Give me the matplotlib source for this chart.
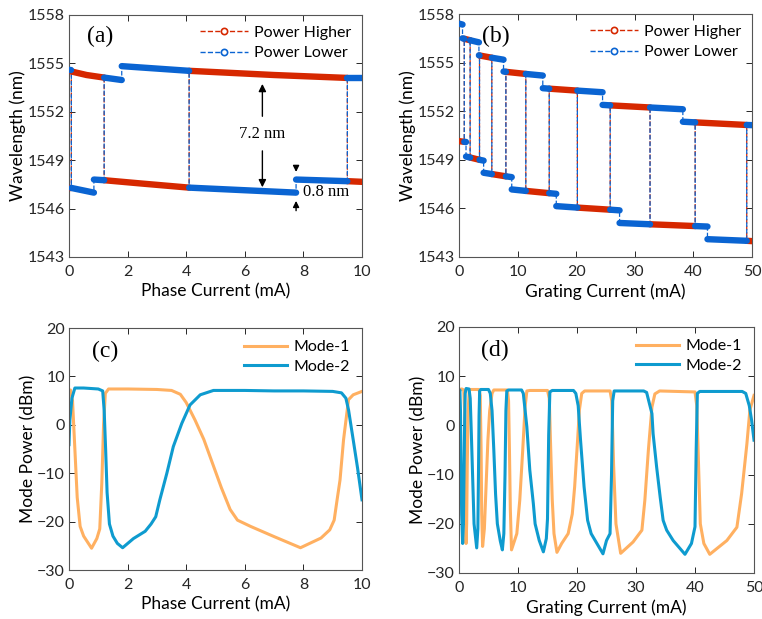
import matplotlib
matplotlib.use("Agg")
import matplotlib.pyplot as plt
from matplotlib.lines import Line2D

plt.rcParams['font.family'] = ['Lato', 'DejaVu Sans']

RED = '#D62800'
BLUE = '#0A64D2'
ORANGE = '#FFB061'
CYAN = '#0E9BCF'

# ---- (a) wavelength vs phase current, one list per continuous segment
a_high_x = [[0.0, 0.08], [0.08, 0.6, 1.2], [1.2, 2.5, 4.1], [4.1, 7.0, 9.5], [9.5, 10.0]]
a_high_y = [[1547.3, 1547.3], [1554.5, 1554.28, 1554.12], [1547.76, 1547.55, 1547.3],
            [1554.54, 1554.28, 1554.1], [1547.7, 1547.66]]
a_low_x = [[0.0, 0.08], [0.08, 0.85], [0.85, 1.2], [1.2, 1.8], [1.8, 4.1],
           [4.1, 7.75], [7.75, 9.5], [9.5, 10.0]]
a_low_y = [[1554.59, 1554.59], [1547.28, 1546.99], [1547.8, 1547.76], [1554.12, 1553.97],
           [1554.83, 1554.54], [1547.3, 1546.99], [1547.8, 1547.7], [1554.1, 1554.1]]

# ---- (b) wavelength vs grating current
b_high_x = [[0.0, 0.05], [0.05, 0.9], [0.9, 1.9], [1.9, 3.5], [3.5, 5.6], [5.6, 8.0],
            [8.0, 11.4], [11.4, 15.4], [15.4, 20.2], [20.2, 25.8], [25.8, 32.6],
            [32.6, 40.3], [40.3, 49.1], [49.1, 50.0]]
b_high_y = [[1557.4, 1557.4], [1550.15, 1550.11], [1556.47, 1556.38], [1549.14, 1549.0],
            [1555.44, 1555.3], [1548.12, 1547.98], [1554.43, 1554.3], [1547.08, 1546.94],
            [1553.39, 1553.27], [1546.05, 1545.92], [1552.36, 1552.23], [1545.02, 1544.91],
            [1551.31, 1551.15], [1544.0, 1543.98]]
b_low_x = [[0.0, 0.05], [0.05, 0.6], [0.6, 0.9], [0.9, 1.2], [1.2, 1.9], [1.9, 3.4],
           [3.4, 3.5], [3.5, 4.2], [4.2, 5.6], [5.6, 7.6], [7.6, 8.0], [8.0, 9.0],
           [9.0, 11.4], [11.4, 14.3], [14.3, 15.4], [15.4, 16.6], [16.6, 20.2],
           [20.2, 24.5], [24.5, 25.8], [25.8, 27.4], [27.4, 32.6], [32.6, 38.2],
           [38.2, 40.3], [40.3, 42.4], [42.4, 49.1], [49.1, 50.0]]
b_low_y = [[1550.15, 1550.15], [1557.4, 1557.35], [1556.5, 1556.47], [1550.11, 1550.1],
           [1549.2, 1549.14], [1556.38, 1556.25], [1555.45, 1555.44], [1549.0, 1548.95],
           [1548.2, 1548.12], [1555.3, 1555.18], [1554.45, 1554.43], [1547.98, 1547.93],
           [1547.17, 1547.08], [1554.3, 1554.2], [1553.42, 1553.39], [1546.94, 1546.9],
           [1546.14, 1546.05], [1553.27, 1553.17], [1552.39, 1552.36], [1545.92, 1545.88],
           [1545.1, 1545.02], [1552.23, 1552.12], [1551.35, 1551.31], [1544.91, 1544.88],
           [1544.1, 1544.0], [1551.15, 1551.14]]

# ---- (c) mode power vs phase current
c_m1_x = [0, 0.05, 0.12, 0.2, 0.28, 0.38, 0.5, 0.77, 0.95, 1.05, 1.12, 1.18, 1.24, 1.35,
          2.0, 3.0, 3.5, 3.8, 4.0, 4.3, 4.6, 4.9, 5.2, 5.5, 5.75, 6.2, 7.0, 7.9, 8.6,
          8.9, 9.05, 9.15, 9.25, 9.37, 9.54, 9.7, 10.0]
c_m1_y = [6.3, 7.2, 5.0, -5.0, -15.0, -21.0, -23.0, -25.5, -23.5, -21.5, -12.0, 0.0, 6.5, 7.4,
          7.4, 7.3, 7.1, 6.3, 4.6, 1.0, -3.0, -8.0, -13.0, -17.5, -19.7, -21.0, -23.1, -25.4,
          -23.4, -21.7, -19.7, -15.5, -11.4, -3.1, 5.2, 6.2, 6.9]
c_m2_x = [0, 0.03, 0.1, 0.2, 0.5, 1.0, 1.15, 1.2, 1.25, 1.3, 1.38, 1.5, 1.65, 1.83, 2.2,
          2.6, 2.8, 2.96, 3.1, 3.34, 3.56, 3.85, 4.13, 4.48, 4.93, 5.5, 6.0, 7.0, 8.0,
          9.0, 9.3, 9.45, 9.54, 9.7, 9.85, 10.0]
c_m2_y = [-4.1, 1.0, 5.5, 7.6, 7.6, 7.4, 7.0, 3.0, -5.0, -14.0, -20.5, -23.0, -24.5, -25.4, -23.5,
          -22.0, -20.5, -19.0, -15.5, -10.0, -4.5, 0.3, 4.1, 6.2, 7.1, 7.1, 7.1, 7.0, 7.0,
          6.9, 6.6, 5.5, 3.1, -3.1, -9.0, -15.5]

# ---- (d) mode power vs grating current
d_m1_x = [0, 0.5, 0.8, 0.95, 1.05, 1.15, 1.2, 1.3, 1.4, 1.55, 1.75, 3.4, 3.6, 3.75, 3.85,
          4.0, 4.3, 4.6, 4.9, 5.2, 5.6, 5.9, 8.2, 8.4, 8.55, 8.7, 8.9, 9.8, 10.3, 10.8,
          11.2, 11.5, 12.0, 15.0, 15.3, 15.5, 15.8, 16.1, 16.6, 17.4, 18.5, 19.2, 19.6,
          20.1, 20.4, 20.8, 21.3, 25.6, 25.9, 26.2, 26.6, 27.4, 29.5, 31.0, 31.5, 32.1,
          32.7, 33.2, 34.0, 40.0, 40.3, 40.6, 40.9, 41.5, 42.5, 45.4, 47.1, 47.9, 48.8,
          49.3, 50.0]
d_m1_y = [7.3, 7.4, 7.2, 3.0, -10.0, -20.0, -24.0, -20.0, -8.0, 3.0, 7.3, 7.3, 6.0, -5.0, -18.0,
          -24.6, -21.0, -12.0, -3.0, 3.0, 6.5, 7.2, 7.2, 5.0, -5.0, -17.0, -25.3, -22.0, -15.2, -5.0,
          3.7, 7.0, 7.1, 7.1, 5.5, -3.0, -15.0, -22.0, -25.8, -24.0, -22.0, -18.0, -12.5,
          -3.0, 3.1, 6.5, 7.0, 7.0, 5.0, -8.0, -20.0, -26.0, -23.7, -21.3, -15.2, -5.0,
          3.7, 6.4, 7.0, 6.8, 4.0, -8.0, -20.0, -24.0, -26.2, -23.4, -20.7, -13.9, -3.7,
          3.1, 6.1]
d_m2_x = [0, 0.15, 0.25, 0.35, 0.45, 0.62, 0.75, 0.85, 0.95, 1.05, 1.2, 1.7, 1.9, 2.1, 2.35,
          2.55, 3.0, 3.2, 3.3, 3.4, 3.5, 3.7, 5.0, 5.3, 5.6, 5.9, 6.2, 6.5, 7.0, 7.35, 7.6,
          7.8, 7.95, 8.1, 8.4, 10.6, 10.9, 11.5, 12.0, 12.6, 12.9, 13.6, 14.3, 14.8, 15.0,
          15.2, 15.4, 15.8, 19.4, 19.8, 20.2, 20.6, 21.2, 21.8, 22.4, 24.4, 25.0, 25.6,
          25.85, 26.05, 26.3, 31.3, 31.8, 32.7, 32.9, 33.5, 34.1, 34.6, 35.2, 36.3, 38.3,
          39.4, 40.0, 40.2, 40.4, 40.8, 48.0, 48.6, 49.2, 49.6, 50.0]
d_m2_y = [6.5, 7.2, 3.0, -8.0, -18.0, -24.0, -20.0, -10.0, 0.0, 6.5, 7.5, 7.4, 5.5, -2.0, -12.0,
          -20.0, -24.9, -21.0, -10.0, 2.0, 7.0, 7.3, 7.3, 6.5, 3.0, -5.0, -14.0, -20.0, -23.5,
          -25.3, -22.0, -10.0, 3.0, 7.0, 7.2, 7.2, 6.5, -0.3, -9.1, -15.9, -20.0, -23.4, -25.7,
          -23.0, -19.0, -2.0, 6.8, 7.1, 7.1, 6.5, 4.0, -3.0, -12.5, -19.3, -22.0, -26.1, -23.4,
          -22.0, -10.0, 5.0, 7.0, 7.0, 6.7, 2.4, -1.7, -8.5, -14.6, -19.3, -21.3, -23.4, -26.2,
          -24.0, -20.6, -5.0, 6.5, 6.9, 6.9, 6.5, 4.0, 1.0, -3.0]

TICK_FS = 11.5
LABEL_FS = 12.5
LEG_FS = 11.5
TAG_FS = 17


def style_axes(ax):
    ax.tick_params(direction='in', top=True, right=True, length=4, width=0.7,
                   labelsize=TICK_FS, colors='#262626')
    ax.tick_params(axis='x', pad=6)
    ax.tick_params(axis='y', pad=3)
    for sp in ax.spines.values():
        sp.set_color('#555555')
        sp.set_linewidth(0.8)


def draw_series(ax, seg_x, seg_y, color):
    path_x = [v for s in seg_x for v in s]
    path_y = [v for s in seg_y for v in s]
    ax.plot(path_x, path_y, ls='--', lw=0.9, color=color, zorder=2)
    for sx, sy in zip(seg_x, seg_y):
        ax.plot(sx, sy, '-', lw=4.6, color=color, solid_capstyle='round', zorder=3)


def wave_legend(ax):
    handles = [Line2D([], [], color=RED, ls='--', lw=1, marker='o', ms=4.5, mfc='white', mew=1.2),
               Line2D([], [], color=BLUE, ls='--', lw=1, marker='o', ms=4.5, mfc='white', mew=1.2)]
    ax.legend(handles, ['Power Higher', 'Power Lower'], loc='upper right', frameon=False,
              fontsize=LEG_FS, handlelength=3.0, labelspacing=0.4, borderaxespad=0.25,
              handletextpad=0.4)


def mode_legend(ax):
    ax.legend(loc='upper right', frameon=False, fontsize=LEG_FS, handlelength=2.7,
              labelspacing=0.35, borderaxespad=0.35, handletextpad=0.4)


fig = plt.figure(figsize=(7.62, 6.19), dpi=100)
W, H = 762, 619


def add_axes(l, t, r, b):
    return fig.add_axes([l / W, 1 - b / H, (r - l) / W, (b - t) / H])


# (a)
ax = add_axes(69, 15, 362, 257)
draw_series(ax, a_high_x, a_high_y, RED)
draw_series(ax, a_low_x, a_low_y, BLUE)
ax.set_xlim(0, 10)
ax.set_ylim(1543, 1558)
ax.set_xticks(range(0, 11, 2))
ax.set_yticks(range(1543, 1559, 3))
ax.set_xlabel('Phase Current (mA)', fontsize=LABEL_FS, labelpad=3)
ax.set_ylabel('Wavelength (nm)', fontsize=LABEL_FS, labelpad=1)
ax.text(0.62, 1556.65, '(a)', family='Liberation Serif', fontsize=TAG_FS, va='center')
ax.annotate('', xy=(6.6, 1553.9), xytext=(6.6, 1551.55),
            arrowprops=dict(arrowstyle='-|>', color='black', lw=1, mutation_scale=11))
ax.annotate('', xy=(6.6, 1547.15), xytext=(6.6, 1549.75),
            arrowprops=dict(arrowstyle='-|>', color='black', lw=1, mutation_scale=11))
ax.text(6.6, 1550.6, '7.2 nm', family='Liberation Serif', fontsize=12, ha='center', va='center')
ax.annotate('', xy=(7.75, 1548.1), xytext=(7.75, 1548.65),
            arrowprops=dict(arrowstyle='-|>', color='black', lw=1, mutation_scale=9))
ax.annotate('', xy=(7.75, 1546.65), xytext=(7.75, 1545.7),
            arrowprops=dict(arrowstyle='-|>', color='black', lw=1, mutation_scale=9))
ax.text(7.98, 1547.0, '0.8 nm', family='Liberation Serif', fontsize=12, va='center')
wave_legend(ax)
style_axes(ax)

# (b)
ax = add_axes(459, 14, 752, 257)
draw_series(ax, b_high_x, b_high_y, RED)
draw_series(ax, b_low_x, b_low_y, BLUE)
ax.set_xlim(0, 50)
ax.set_ylim(1543, 1558)
ax.set_xticks(range(0, 51, 10))
ax.set_yticks(range(1543, 1559, 3))
ax.set_xlabel('Grating Current (mA)', fontsize=LABEL_FS, labelpad=3)
ax.set_ylabel('Wavelength (nm)', fontsize=LABEL_FS, labelpad=1)
ax.text(4.0, 1556.6, '(b)', family='Liberation Serif', fontsize=TAG_FS, va='center')
wave_legend(ax)
style_axes(ax)

# (c)
ax = add_axes(69, 328, 362, 570)
ax.plot(c_m1_x, c_m1_y, color=ORANGE, lw=2.2, label='Mode-1')
ax.plot(c_m2_x, c_m2_y, color=CYAN, lw=2.2, label='Mode-2')
ax.set_xlim(0, 10)
ax.set_ylim(-30, 20)
ax.set_xticks(range(0, 11, 2))
ax.set_yticks(range(-30, 21, 10))
ax.set_xlabel('Phase Current (mA)', fontsize=LABEL_FS, labelpad=3)
ax.set_ylabel('Mode Power (dBm)', fontsize=LABEL_FS, labelpad=0)
ax.text(0.8, 15.2, '(c)', family='Liberation Serif', fontsize=TAG_FS, va='center')
mode_legend(ax)
style_axes(ax)

# (d)
ax = add_axes(459, 327, 754, 573)
ax.plot(d_m1_x, d_m1_y, color=ORANGE, lw=2.2, label='Mode-1')
ax.plot(d_m2_x, d_m2_y, color=CYAN, lw=2.2, label='Mode-2')
ax.set_xlim(0, 50)
ax.set_ylim(-30, 20)
ax.set_xticks(range(0, 51, 10))
ax.set_yticks(range(-30, 21, 10))
ax.set_xlabel('Grating Current (mA)', fontsize=LABEL_FS, labelpad=3)
ax.set_ylabel('Mode Power (dBm)', fontsize=LABEL_FS, labelpad=0)
ax.text(3.8, 15.2, '(d)', family='Liberation Serif', fontsize=TAG_FS, va='center')
mode_legend(ax)
style_axes(ax)

fig.savefig('out.png', dpi=100)
